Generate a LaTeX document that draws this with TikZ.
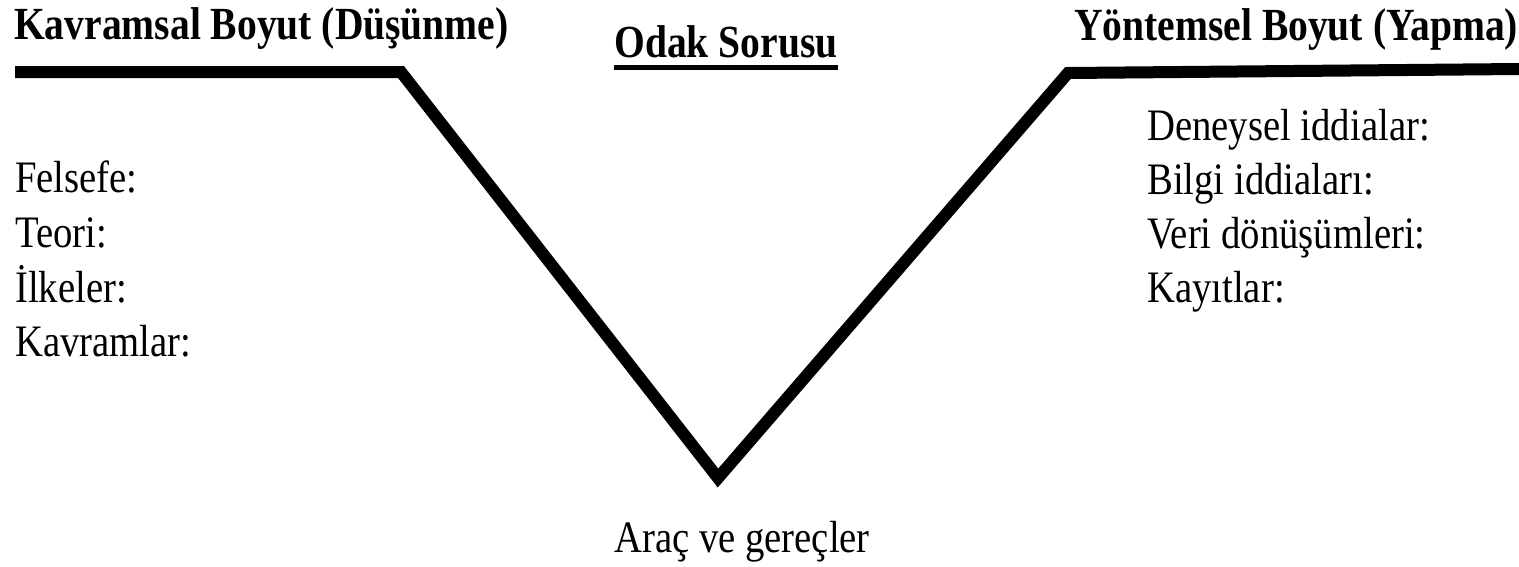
\documentclass[tikz,border=0pt]{standalone}
\usepackage{fontspec}
\setmainfont[FakeStretch=0.86]{Liberation Serif}
\begin{document}
\begin{tikzpicture}[x=1pt,y=-1pt,
  vline/.style={line width=12pt,line join=miter,line cap=butt},
  ttl/.style={font=\fontsize{46}{54}\selectfont\bfseries,inner sep=0pt,anchor=base west},
  item/.style={font=\fontsize{45}{54}\selectfont,inner sep=0pt,anchor=base west}]
\useasboundingbox (0,0) rectangle (1519,566);
\coordinate (l0) at (15,72);
\coordinate (l1) at (401,72);
\coordinate (bot) at (718,478);
\coordinate (r1) at (1068,73);
\coordinate (r0) at (1519,69);
\draw[vline] (l0) -- (l1) -- (bot) -- (r1) -- (r0);
\node[ttl] (kt) at (14,39) {Kavramsal Boyut (Düşünme)};
\node[ttl] (yt) at (1074,40) {Yöntemsel Boyut (Yapma)};
\node[ttl,anchor=base] (os) at (726,57) {Odak Sorusu};
\draw[line width=5pt] ([yshift=-10pt]os.base west) -- ([yshift=-10pt]os.base east);
\node[item] (f1) at (15,192) {Felsefe:};
\node[item] (f2) at (15,247) {Teori:};
\node[item] (f3) at (15,302) {İlkeler:};
\node[item] (f4) at (15,356) {Kavramlar:};
\node[item] (d1) at (1147,140) {Deneysel iddialar:};
\node[item] (d2) at (1147,194) {Bilgi iddiaları:};
\node[item] (d3) at (1147,248) {Veri dönüşümleri:};
\node[item] (d4) at (1147,302) {Kayıtlar:};
\node[item,anchor=base] (ag) at (742,552) {Araç ve gereçler};
\end{tikzpicture}
\end{document}
